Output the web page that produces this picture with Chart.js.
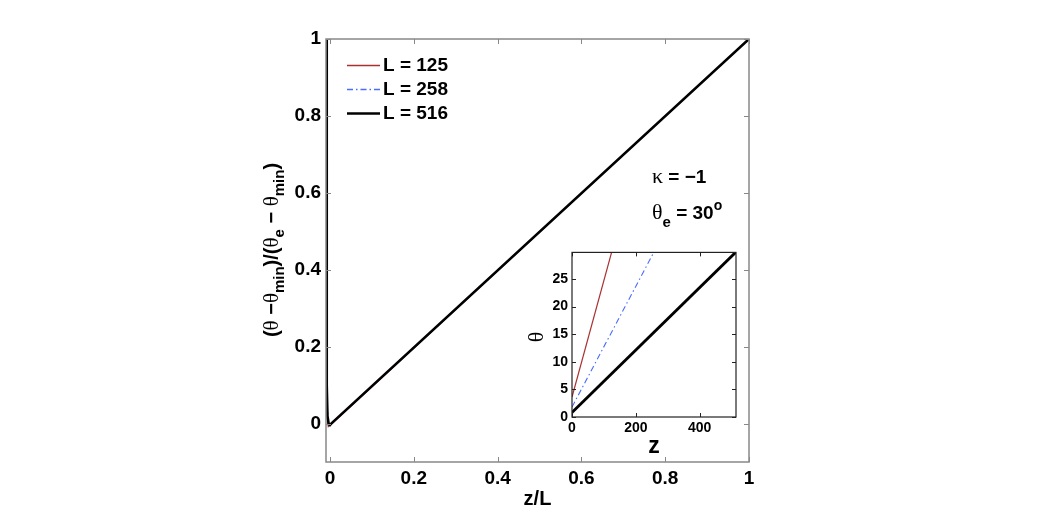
<!DOCTYPE html>
<html>
<head>
<meta charset="utf-8">
<script src="https://cdn.jsdelivr.net/npm/chart.js@4.4.0/dist/chart.umd.min.js"></script>
<style>
  html, body { margin: 0; padding: 0; background: #fff; }
  #wrap { position: relative; width: 1038px; height: 520px; }
  #main { position: absolute; left: 0; top: 0; }
  #inset { position: absolute; left: 520px; top: 240px; }
</style>
</head>
<body>
<div id="wrap">
  <canvas id="main" width="1038" height="520"></canvas>
  <canvas id="inset" width="240" height="230"></canvas>
</div>
<script>
/* ---------- data ---------- */
const seriesLabels = ['L = 125', 'L = 258', 'L = 516'];

// main panel: normalised profile vs z/L
const zL125 = [-0.0085, -0.0082, -0.0070, -0.0040, 0.0010, 1.0];
const th125 = [1.0, 0.15, 0.02, -0.008, -0.004, 1.0];
const zL258 = [-0.0085, -0.0083, -0.0075, -0.0030, 0.0030, 1.0];
const th258 = [1.0, 0.20, 0.06, -0.004, 0.0, 1.0];
const zL516 = [-0.0080, -0.0080, -0.0075, -0.0060, -0.0030, 0.0000, 0.0030, 1.0];
const th516 = [1.0, 0.60, 0.10, 0.02, -0.002, -0.004, 0.0, 1.0];

const mainXTicks = [0, 0.2, 0.4, 0.6, 0.8, 1];
const mainYTicks = [0, 0.2, 0.4, 0.6, 0.8, 1];

// inset: raw theta vs z
const z125 = [0, 125];
const t125 = [3.6, 30];
const z258 = [0, 258];
const t258 = [1.8, 30];
const z516 = [0, 516];
const t516 = [0.8, 30];

const insetXTicks = [0, 200, 400];
const insetYTicks = [0, 5, 10, 15, 20, 25];

const lineColors = ['#a83232', '#4a6cff', '#000000'];

/* ---------- helpers ---------- */
const SANS = '"Liberation Sans", Arial, Helvetica, sans-serif';
const SERIF = '"Liberation Serif", "DejaVu Serif", serif';

const pts = (xs, ys) => xs.map((x, i) => ({ x: x, y: ys[i] }));

// draw a run of text pieces (with sub/superscripts) starting at x, baseline y
function richWidth(ctx, parts) {
  let w = 0;
  parts.forEach(p => { ctx.font = p.font; w += ctx.measureText(p.t).width; });
  return w;
}
function drawRich(ctx, parts, x, y) {
  ctx.textBaseline = 'alphabetic';
  ctx.textAlign = 'left';
  parts.forEach(p => {
    ctx.font = p.font;
    ctx.fillText(p.t, x, y + (p.dy || 0));
    x += ctx.measureText(p.t).width;
  });
}

// box + inward ticks on all four sides
const frameTicks = {
  id: 'frameTicks',
  afterDraw(chart, args, opts) {
    const { ctx, chartArea: a, scales } = chart;
    ctx.save();
    ctx.strokeStyle = opts.color;
    ctx.lineWidth = opts.width;
    ctx.strokeRect(a.left, a.top, a.right - a.left, a.bottom - a.top);
    ctx.beginPath();
    scales.x.ticks.forEach(t => {
      const px = Math.round(scales.x.getPixelForValue(t.value)) + 0.5;
      ctx.moveTo(px, a.bottom); ctx.lineTo(px, a.bottom - opts.len);
      ctx.moveTo(px, a.top); ctx.lineTo(px, a.top + opts.len);
    });
    scales.y.ticks.forEach(t => {
      const py = Math.round(scales.y.getPixelForValue(t.value)) + 0.5;
      ctx.moveTo(a.left, py); ctx.lineTo(a.left + opts.len, py);
      ctx.moveTo(a.right, py); ctx.lineTo(a.right - opts.len, py);
    });
    ctx.lineWidth = 1;
    ctx.stroke();
    ctx.restore();
  }
};

/* ---------- main chart ---------- */
const mainDecor = {
  id: 'mainDecor',
  afterDraw(chart) {
    const { ctx, chartArea: a } = chart;
    ctx.save();
    ctx.fillStyle = '#000';

    // x title
    ctx.font = 'bold 20px ' + SANS;
    ctx.textAlign = 'center';
    ctx.textBaseline = 'alphabetic';
    ctx.fillText('z/L', (a.left + a.right) / 2, 505);

    // y title, rotated
    const big = 'bold 20px ' + SANS;
    const sub = 'bold 15px ' + SANS;
    const gk = '21px ' + SERIF;
    const yParts = [
      { t: '(', font: big }, { t: 'θ', font: gk }, { t: ' −', font: big }, { t: 'θ', font: gk },
      { t: 'min', font: sub, dy: 6 }, { t: ')/(', font: big }, { t: 'θ', font: gk },
      { t: 'e', font: sub, dy: 6 }, { t: ' − ', font: big }, { t: 'θ', font: gk },
      { t: 'min', font: sub, dy: 6 }, { t: ')', font: big }
    ];
    ctx.translate(278, 250);
    ctx.rotate(-Math.PI / 2);
    drawRich(ctx, yParts, -richWidth(ctx, yParts) / 2, 0);
    ctx.setTransform(1, 0, 0, 1, 0, 0);

    // legend (drawn from the dataset styles)
    const rowY = [65, 89, 113];
    chart.data.datasets.forEach((ds, i) => {
      ctx.beginPath();
      ctx.strokeStyle = ds.borderColor;
      ctx.lineWidth = Math.max(ds.borderWidth, 1.6);
      ctx.setLineDash(ds.borderDash || []);
      ctx.moveTo(347, rowY[i] + 0.5);
      ctx.lineTo(380, rowY[i] + 0.5);
      ctx.stroke();
      ctx.setLineDash([]);
      ctx.fillStyle = '#000';
      ctx.font = 'bold 19px ' + SANS;
      ctx.textBaseline = 'middle';
      ctx.textAlign = 'left';
      ctx.fillText(ds.label, 383, rowY[i] + 1);
    });

    // annotations
    const b18 = 'bold 19px ' + SANS;
    drawRich(ctx, [{ t: 'κ', font: '22px ' + SERIF }, { t: ' = −1', font: b18 }], 652, 183);
    drawRich(ctx, [
      { t: 'θ', font: '22px ' + SERIF }, { t: 'e', font: 'bold 15px ' + SANS, dy: 8 },
      { t: ' = 30', font: b18 }, { t: 'o', font: 'bold 14px ' + SANS, dy: -9 }
    ], 652, 219);
    ctx.restore();
  }
};

new Chart(document.getElementById('main'), {
  type: 'scatter',
  data: {
    datasets: [
      { label: seriesLabels[0], data: pts(zL125, th125), borderColor: lineColors[0], borderWidth: 1.2, order: 2 },
      { label: seriesLabels[1], data: pts(zL258, th258), borderColor: lineColors[1], borderWidth: 1.2, borderDash: [6, 3, 1.5, 3], order: 1 },
      { label: seriesLabels[2], data: pts(zL516, th516), borderColor: lineColors[2], borderWidth: 2.6, order: 0 }
    ].map(d => Object.assign(d, { showLine: true, pointRadius: 0, fill: false, tension: 0 }))
  },
  options: {
    responsive: false,
    animation: false,
    layout: { padding: { left: 270, right: 289, top: 39, bottom: 0 } },
    plugins: {
      legend: { display: false },
      tooltip: { enabled: false },
      frameTicks: { color: '#888888', width: 1.5, len: 5 }
    },
    scales: {
      x: {
        type: 'linear', min: -0.0095, max: 1,
        grid: { display: false, tickLength: 0 }, border: { display: false },
        afterBuildTicks: s => { s.ticks = mainXTicks.map(v => ({ value: v })); },
        afterFit: s => { s.height = 58; },
        ticks: { color: '#000', padding: 5, maxRotation: 0, autoSkip: false,
                 font: { family: SANS, size: 19, weight: 'bold' }, callback: v => String(v) }
      },
      y: {
        type: 'linear', min: -0.1, max: 1,
        grid: { display: false, tickLength: 0 }, border: { display: false },
        afterBuildTicks: s => { s.ticks = mainYTicks.map(v => ({ value: v })); },
        afterFit: s => { s.width = 56; },
        ticks: { color: '#000', padding: 5, autoSkip: false,
                 font: { family: SANS, size: 19, weight: 'bold' }, callback: v => String(v) }
      }
    }
  },
  plugins: [frameTicks, mainDecor]
});

/* ---------- inset ---------- */
const insetDecor = {
  id: 'insetDecor',
  afterDraw(chart) {
    const { ctx, chartArea: a } = chart;
    ctx.save();
    ctx.fillStyle = '#000';
    ctx.textAlign = 'center';
    ctx.textBaseline = 'middle';
    ctx.font = 'bold 23px ' + SANS;
    ctx.fillText('z', (a.left + a.right) / 2, 207);
    ctx.translate(17, 97);
    ctx.rotate(-Math.PI / 2);
    ctx.font = '22px ' + SERIF;
    ctx.fillText('θ', 0, 0);
    ctx.restore();
  }
};

new Chart(document.getElementById('inset'), {
  type: 'scatter',
  data: {
    datasets: [
      { label: seriesLabels[0], data: pts(z125, t125), borderColor: lineColors[0], borderWidth: 1.2 },
      { label: seriesLabels[1], data: pts(z258, t258), borderColor: lineColors[1], borderWidth: 1.1, borderDash: [6, 3, 1.5, 3] },
      { label: seriesLabels[2], data: pts(z516, t516), borderColor: lineColors[2], borderWidth: 2.8 }
    ].map(d => Object.assign(d, { showLine: true, pointRadius: 0, fill: false, tension: 0 }))
  },
  options: {
    responsive: false,
    animation: false,
    layout: { padding: { left: 22, right: 24, top: 12, bottom: 13 } },
    plugins: {
      legend: { display: false },
      tooltip: { enabled: false },
      frameTicks: { color: '#222222', width: 1.2, len: 4 }
    },
    scales: {
      x: {
        type: 'linear', min: 0, max: 514,
        grid: { display: false, tickLength: 0 }, border: { display: false },
        afterBuildTicks: s => { s.ticks = insetXTicks.map(v => ({ value: v })); },
        afterFit: s => { s.height = 40; },
        ticks: { color: '#000', padding: 3, maxRotation: 0, autoSkip: false,
                 font: { family: SANS, size: 14, weight: 'bold' }, callback: v => String(v) }
      },
      y: {
        type: 'linear', min: 0, max: 29.8,
        grid: { display: false, tickLength: 0 }, border: { display: false },
        afterBuildTicks: s => { s.ticks = insetYTicks.map(v => ({ value: v })); },
        afterFit: s => { s.width = 30; },
        ticks: { color: '#000', padding: 4, autoSkip: false,
                 font: { family: SANS, size: 14, weight: 'bold' }, callback: v => String(v) }
      }
    }
  },
  plugins: [frameTicks, insetDecor]
});
</script>
</body>
</html>
